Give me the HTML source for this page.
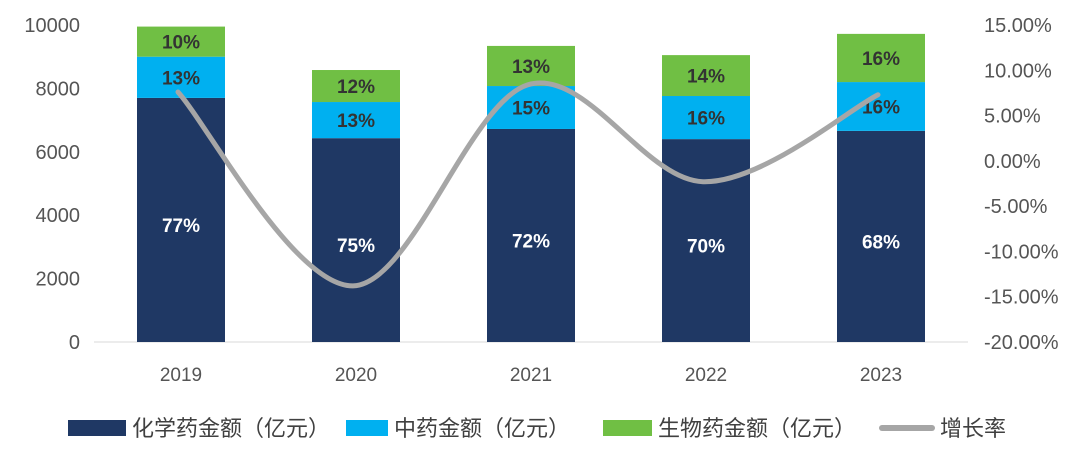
<!DOCTYPE html>
<html><head><meta charset="utf-8"><style>
body{margin:0;background:#fff;}
svg{display:block;font-family:"Liberation Sans","Noto Sans CJK SC",sans-serif;}
</style></head><body>
<svg id="chart" width="1080" height="454" viewBox="0 0 1080 454"></svg>
<script>
const categories=["2019","2020","2021","2022","2023"];
const chemVals=[7700,6430,6720,6400,6660];
const tcmVals=[1300,1140,1355,1360,1540];
const bioVals=[950,1010,1265,1290,1520];
const chemPct=["77%","75%","72%","70%","68%"];
const tcmPct=["13%","13%","15%","16%","16%"];
const bioPct=["10%","12%","13%","14%","16%"];
const growth=[7.6,-13.8,8.4,-2.3,7.3];
const leftTicks=[0,2000,4000,6000,8000,10000];
const rightTicks=[15,10,5,0,-5,-10,-15,-20];
const svg=document.getElementById('chart');
const NS='http://www.w3.org/2000/svg';
const y0=342,y1=25;
const yL=v=>y0-(v/10000)*(y0-y1);
const yR=v=>y0-((v+20)/35)*(y0-y1);
const xC=i=>181+i*175;
const bw=88;
function el(t,a,txt){const e=document.createElementNS(NS,t);for(const k in a)e.setAttribute(k,a[k]);if(txt!==undefined)e.textContent=txt;svg.appendChild(e);return e;}
leftTicks.forEach(v=>{const t=el('text',{x:80,y:yL(v)+7,'text-anchor':'end','font-size':20,fill:'#555'},String(v));
});
rightTicks.forEach(v=>{const t=el('text',{x:984,y:yR(v)+7,'font-size':20,fill:'#555'},v.toFixed(2)+'%');
});
const ax=el('line',{x1:94,x2:968,y1:y0,y2:y0,stroke:'#d9d9d9','stroke-width':1});

categories.forEach((c,i)=>{
 const x=xC(i)-bw/2;let b=0;
 [[chemVals,'#1f3864',chemPct,'#fff','bar-chemical'],[tcmVals,'#00b0f0',tcmPct,'#333','bar-tcm'],[bioVals,'#70bf44',bioPct,'#333','bar-bio']].forEach(([arr,col,pc,tc,nm],k)=>{
  const top=yL(b+arr[i]),bot=yL(b);
  const r=el('rect',{x:x,y:top,width:bw,height:bot-top,fill:col});
  
  const ly=k===0?(top+bot)/2+12:(top+bot)/2+7;
  const t=el('text',{x:xC(i),y:ly,'text-anchor':'middle','font-size':19,'font-weight':'bold',fill:tc},pc[i]);
  
  b+=arr[i];
 });
 const t=el('text',{x:xC(i),y:381,'text-anchor':'middle','font-size':19,fill:'#555'},c);
 
});
const pts=growth.map((g,i)=>[xC(i)-3,yR(g)]);
let d='M'+pts[0][0]+','+pts[0][1];
for(let i=0;i<pts.length-1;i++){const p0=pts[Math.max(0,i-1)],p1=pts[i],p2=pts[i+1],p3=pts[Math.min(pts.length-1,i+2)];
 const t=1/6;d+=' C'+(p1[0]+(p2[0]-p0[0])*t)+','+(p1[1]+(p2[1]-p0[1])*t)+' '+(p2[0]-(p3[0]-p1[0])*t)+','+(p2[1]-(p3[1]-p1[1])*t)+' '+p2[0]+','+p2[1];}
const ln=el('path',{d:d,fill:'none',stroke:'#a6a6a6','stroke-width':5,'stroke-linecap':'round'});

const leg=[[68,58,'#1f3864','化学药金额（亿元）'],[346,42,'#00b0f0','中药金额（亿元）'],[603,49,'#70bf44','生物药金额（亿元）']];
leg.forEach(([x,w,c,s])=>{const r=el('rect',{x:x,y:420,width:w,height:16,fill:c});

const t=el('text',{x:x+w+6,y:436,'font-size':22,fill:'#404040'},s);
});
const ll=el('line',{x1:882,x2:932,y1:428,y2:428,stroke:'#a6a6a6','stroke-width':6,'stroke-linecap':'round'});

const lt=el('text',{x:940,y:436,'font-size':22,fill:'#404040'},'增长率');

</script>
</body></html>
